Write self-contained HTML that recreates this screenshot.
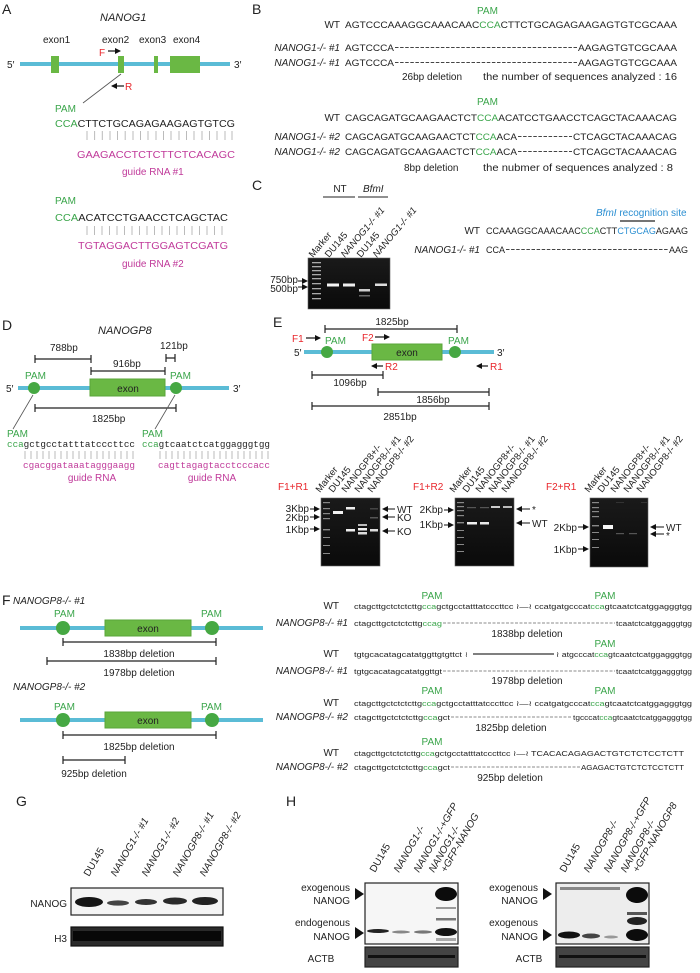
<!DOCTYPE html>
<html><head><meta charset="utf-8"><style>
html,body{margin:0;padding:0;background:#fff}
svg{display:block}
text{font-family:"Liberation Sans",Arial,sans-serif;fill:#222}
.g{fill:#3aa54a}.r{fill:#e8262b}.m{fill:#c03a9a}.b{fill:#2b8fd2}
.it{font-style:italic}
.mono{font-family:"Liberation Mono",monospace}
.br{stroke:#222;stroke-width:1.2;fill:none}
.tick{stroke:#bbb;stroke-width:1}
</style></head><body>
<svg width="700" height="973" viewBox="0 0 700 973" xmlns="http://www.w3.org/2000/svg">
<defs>
<marker id="ah" markerWidth="6" markerHeight="6" refX="5" refY="3" orient="auto" markerUnits="userSpaceOnUse"><path d="M0,0 L6,3 L0,6 z" fill="#111"/></marker>
<linearGradient id="gl" x1="0" x2="0" y1="0" y2="1"><stop offset="0" stop-color="#1a1a1a"/><stop offset="1" stop-color="#0a0a0a"/></linearGradient>
</defs>

<!-- ===== A ===== -->
<text x="2" y="14" font-size="14">A</text>
<text x="100" y="21" font-size="11" class="it">NANOG1</text>
<text x="43" y="43" font-size="10">exon1</text>
<text x="102" y="43" font-size="10">exon2</text>
<text x="139" y="43" font-size="10">exon3</text>
<text x="173" y="43" font-size="10">exon4</text>
<text x="7" y="68" font-size="10">5′</text>
<text x="234" y="68" font-size="10">3′</text>
<rect x="20" y="62" width="210" height="4" fill="#5bbcd6"/>
<rect x="51" y="56" width="8" height="17" fill="#6ab844"/>
<rect x="118" y="56" width="6" height="17" fill="#6ab844"/>
<rect x="154" y="56" width="4" height="17" fill="#6ab844"/>
<rect x="170" y="56" width="30" height="17" fill="#6ab844"/>
<text x="99" y="56" font-size="10" class="r">F</text>
<line x1="108" y1="51" x2="120" y2="51" stroke="#111" stroke-width="1.2" marker-end="url(#ah)"/>
<line x1="124" y1="86" x2="112" y2="86" stroke="#111" stroke-width="1.2" marker-end="url(#ah)"/>
<text x="125" y="90" font-size="10" class="r">R</text>
<line x1="121" y1="74" x2="83" y2="103" stroke="#555" stroke-width="0.8"/>
<text x="55" y="112" font-size="10" class="g">PAM</text>
<text x="55" y="127" font-size="10" textLength="180" lengthAdjust="spacingAndGlyphs"><tspan class="g">CCA</tspan>CTTCTGCAGAGAAGAGTGTCG</text>
<g class="tick">
<path d="M87 131v9M94.6 131v9M102.3 131v9M110 131v9M117.5 131v9M125.2 131v9M133 131v9M140.5 131v9M148 131v9M156 131v9M163.5 131v9M171 131v9M179 131v9M186.5 131v9M194 131v9M202 131v9M209.5 131v9M217 131v9M225 131v9M232 131v9"/>
</g>
<text x="77" y="158" font-size="10" class="m" textLength="158" lengthAdjust="spacingAndGlyphs">GAAGACCTCTCTTCTCACAGC</text>
<text x="122" y="175" font-size="10" class="m">guide RNA  #1</text>
<text x="55" y="204" font-size="10" class="g">PAM</text>
<text x="55" y="221" font-size="10" textLength="173" lengthAdjust="spacingAndGlyphs"><tspan class="g">CCA</tspan>ACATCCTGAACCTCAGCTAC</text>
<g class="tick">
<path d="M87 226v9M94.5 226v9M102 226v9M109.5 226v9M117 226v9M124.5 226v9M132 226v9M139.5 226v9M147 226v9M154.5 226v9M162 226v9M169.5 226v9M177 226v9M184.5 226v9M192 226v9M199.5 226v9M207 226v9M214.5 226v9M222 226v9"/>
</g>
<text x="78" y="249" font-size="10" class="m" textLength="150" lengthAdjust="spacingAndGlyphs">TGTAGGACTTGGAGTCGATG</text>
<text x="122" y="267" font-size="10" class="m">guide RNA  #2</text>

<!-- ===== B ===== -->
<text x="252" y="14" font-size="14">B</text>
<text x="477" y="14" font-size="10" class="g">PAM</text>
<text x="340" y="28" font-size="10" text-anchor="end">WT</text>
<text x="345" y="28" font-size="9.5" textLength="332" lengthAdjust="spacingAndGlyphs">AGTCCCAAAGGCAAACAAC<tspan class="g">CCA</tspan>CTTCTGCAGAGAAGAGTGTCGCAAA</text>
<text x="340" y="51" font-size="10" class="it" text-anchor="end">NANOG1-/- #1</text>
<text x="345" y="51" font-size="9.5" textLength="49" lengthAdjust="spacingAndGlyphs">AGTCCCA</text>
<line x1="395" y1="47.5" x2="577" y2="47.5" stroke="#444" stroke-width="0.9" stroke-dasharray="3.5,1.6"/>
<text x="578" y="51" font-size="9.5" textLength="99" lengthAdjust="spacingAndGlyphs">AAGAGTGTCGCAAA</text>
<text x="340" y="66" font-size="10" class="it" text-anchor="end">NANOG1-/- #1</text>
<text x="345" y="66" font-size="9.5" textLength="49" lengthAdjust="spacingAndGlyphs">AGTCCCA</text>
<line x1="395" y1="62.5" x2="577" y2="62.5" stroke="#444" stroke-width="0.9" stroke-dasharray="3.5,1.6"/>
<text x="578" y="66" font-size="9.5" textLength="99" lengthAdjust="spacingAndGlyphs">AAGAGTGTCGCAAA</text>
<text x="402" y="80" font-size="10">26bp deletion</text>
<text x="483" y="80" font-size="10" textLength="194" lengthAdjust="spacingAndGlyphs">the number of sequences analyzed : 16</text>
<text x="477" y="105" font-size="10" class="g">PAM</text>
<text x="340" y="121" font-size="10" text-anchor="end">WT</text>
<text x="345" y="121" font-size="9.5" textLength="332" lengthAdjust="spacingAndGlyphs">CAGCAGATGCAAGAACTCT<tspan class="g">CCA</tspan>ACATCCTGAACCTCAGCTACAAACAG</text>
<text x="340" y="140" font-size="10" class="it" text-anchor="end">NANOG1-/- #2</text>
<text x="345" y="140" font-size="9.5" textLength="172" lengthAdjust="spacingAndGlyphs">CAGCAGATGCAAGAACTCT<tspan class="g">CCA</tspan>ACA</text>
<line x1="518" y1="136.5" x2="572" y2="136.5" stroke="#444" stroke-width="0.9" stroke-dasharray="3.5,1.6"/>
<text x="573" y="140" font-size="9.5" textLength="104" lengthAdjust="spacingAndGlyphs">CTCAGCTACAAACAG</text>
<text x="340" y="155" font-size="10" class="it" text-anchor="end">NANOG1-/- #2</text>
<text x="345" y="155" font-size="9.5" textLength="172" lengthAdjust="spacingAndGlyphs">CAGCAGATGCAAGAACTCT<tspan class="g">CCA</tspan>ACA</text>
<line x1="518" y1="151.5" x2="572" y2="151.5" stroke="#444" stroke-width="0.9" stroke-dasharray="3.5,1.6"/>
<text x="573" y="155" font-size="9.5" textLength="104" lengthAdjust="spacingAndGlyphs">CTCAGCTACAAACAG</text>
<text x="404" y="171" font-size="10">8bp deletion</text>
<text x="483" y="171" font-size="10" textLength="190" lengthAdjust="spacingAndGlyphs">the nubmer of sequences analyzed :  8</text>

<!-- ===== C ===== -->
<text x="252" y="190" font-size="14">C</text>
<text x="340" y="192" font-size="10" text-anchor="middle">NT</text>
<line x1="323" y1="197" x2="355" y2="197" stroke="#222" stroke-width="1"/>
<text x="363" y="192" font-size="10" class="it">BfmI</text>
<line x1="358" y1="197" x2="388" y2="197" stroke="#222" stroke-width="1"/>
<g font-size="9.5">
<text transform="translate(313,258) rotate(-50)">Marker</text>
<text transform="translate(329,258) rotate(-50)">DU145</text>
<text transform="translate(345,258) rotate(-50)" class="it">NANOG1-/- #1</text>
<text transform="translate(361,258) rotate(-50)">DU145</text>
<text transform="translate(377,258) rotate(-50)" class="it">NANOG1-/- #1</text>
</g>
<rect x="308" y="258" width="82" height="51" fill="url(#gl)" stroke="#666" stroke-width="0.6"/>
<g fill="#aaa"><rect x="312" y="262" width="9" height="1.3"/><rect x="312" y="266" width="9" height="1.3"/><rect x="312" y="270" width="9" height="1.3"/><rect x="312" y="274" width="9" height="1.3"/><rect x="312" y="278" width="9" height="1.3"/><rect x="312" y="283" width="9" height="1.3"/><rect x="312" y="288" width="9" height="1.3"/><rect x="312" y="293" width="9" height="1.3"/><rect x="312" y="298" width="9" height="1.3"/></g>
<rect x="327" y="283.5" width="12" height="3" fill="#f4f4f4"/>
<rect x="343" y="283.5" width="12" height="3" fill="#eee"/>
<rect x="359" y="289" width="11" height="2.5" fill="#ccc"/>
<rect x="359" y="295" width="11" height="1.5" fill="#666"/>
<rect x="375" y="283.5" width="12" height="2.5" fill="#ddd"/>
<text x="298" y="283" font-size="10" text-anchor="end">750bp</text>
<text x="298" y="292" font-size="10" text-anchor="end">500bp</text>
<line x1="298" y1="281" x2="307" y2="281" stroke="#111" stroke-width="1" marker-end="url(#ah)"/>
<line x1="298" y1="287" x2="307" y2="287" stroke="#111" stroke-width="1" marker-end="url(#ah)"/>
<text x="596" y="216" font-size="10" class="b"><tspan class="it">BfmI</tspan> recognition site</text>
<line x1="620" y1="221" x2="655" y2="221" stroke="#222" stroke-width="1.3"/>
<text x="480" y="234" font-size="10" text-anchor="end">WT</text>
<text x="486" y="234" font-size="9.5" textLength="202" lengthAdjust="spacingAndGlyphs">CCAAAGGCAAACAAC<tspan class="g">CCA</tspan>CTT<tspan class="b">CTGCAG</tspan>AGAAG</text>
<text x="480" y="253" font-size="10" class="it" text-anchor="end">NANOG1-/- #1</text>
<text x="486" y="253" font-size="9.5" textLength="19" lengthAdjust="spacingAndGlyphs">CCA</text>
<line x1="506" y1="249.5" x2="668" y2="249.5" stroke="#444" stroke-width="0.9" stroke-dasharray="3.5,1.6"/>
<text x="669" y="253" font-size="9.5" textLength="19" lengthAdjust="spacingAndGlyphs">AAG</text>

<!-- ===== D ===== -->
<text x="2" y="330" font-size="14">D</text>
<text x="98" y="334" font-size="11" class="it">NANOGP8</text>
<text x="50" y="351" font-size="10">788bp</text>
<path class="br" d="M35 359H91M35 355v8M91 355v8"/>
<text x="113" y="367" font-size="10">916bp</text>
<path class="br" d="M91 371H165M91 367v8M165 367v8"/>
<text x="160" y="349" font-size="10">121bp</text>
<path class="br" d="M166 358H175M166 354v8M175 354v8"/>
<text x="25" y="379" font-size="10" class="g">PAM</text>
<text x="170" y="379" font-size="10" class="g">PAM</text>
<text x="6" y="392" font-size="10">5′</text>
<text x="233" y="392" font-size="10">3′</text>
<rect x="18" y="386" width="211" height="4" fill="#5bbcd6"/>
<rect x="90" y="379" width="75" height="17" fill="#6ab844" stroke="#5aa63a"/>
<text x="128" y="392" font-size="10" text-anchor="middle">exon</text>
<circle cx="34" cy="388" r="6" fill="#46a843"/>
<circle cx="176" cy="388" r="6" fill="#46a843"/>
<path class="br" d="M35 408H176M35 404v8M176 404v8"/>
<text x="92" y="422" font-size="10">1825bp</text>
<line x1="33" y1="395" x2="13" y2="429" stroke="#555" stroke-width="0.8"/>
<line x1="175" y1="395" x2="155" y2="429" stroke="#555" stroke-width="0.8"/>
<text x="7" y="437" font-size="10" class="g">PAM</text>
<text x="142" y="437" font-size="10" class="g">PAM</text>
<text x="7" y="447" font-size="9" class="mono" textLength="128" lengthAdjust="spacingAndGlyphs"><tspan class="g">cca</tspan>gctgcctatttatcccttcc</text>
<text x="142" y="447" font-size="9" class="mono" textLength="128" lengthAdjust="spacingAndGlyphs"><tspan class="g">cca</tspan>gtcaatctcatggagggtgg</text>
<g class="tick"><path d="M25 451v8M31 451v8M37 451v8M43 451v8M49 451v8M55 451v8M61 451v8M67 451v8M73 451v8M79 451v8M85 451v8M91 451v8M97 451v8M103 451v8M109 451v8M115 451v8M121 451v8M127 451v8M133 451v8"/>
<path d="M160 451v8M166 451v8M172 451v8M178 451v8M184 451v8M190 451v8M196 451v8M202 451v8M208 451v8M214 451v8M220 451v8M226 451v8M232 451v8M238 451v8M244 451v8M250 451v8M256 451v8M262 451v8M268 451v8"/></g>
<text x="23" y="468" font-size="9" class="mono m" textLength="112" lengthAdjust="spacingAndGlyphs">cgacggataaatagggaagg</text>
<text x="158" y="468" font-size="9" class="mono m" textLength="112" lengthAdjust="spacingAndGlyphs">cagttagagtacctcccacc</text>
<text x="92" y="481" font-size="10" class="m" text-anchor="middle">guide RNA</text>
<text x="212" y="481" font-size="10" class="m" text-anchor="middle">guide RNA</text>

<!-- ===== E ===== -->
<text x="273" y="327" font-size="14">E</text>
<text x="392" y="325" font-size="10" text-anchor="middle">1825bp</text>
<path class="br" d="M325 329H457M325 325v8M457 325v8"/>
<text x="292" y="342" font-size="10" class="r">F1</text>
<line x1="306" y1="338" x2="320" y2="338" stroke="#111" stroke-width="1.2" marker-end="url(#ah)"/>
<text x="325" y="344" font-size="10" class="g">PAM</text>
<text x="362" y="341" font-size="10" class="r">F2</text>
<line x1="375" y1="337" x2="389" y2="337" stroke="#111" stroke-width="1.2" marker-end="url(#ah)"/>
<text x="448" y="344" font-size="10" class="g">PAM</text>
<text x="294" y="356" font-size="10">5′</text>
<text x="497" y="356" font-size="10">3′</text>
<rect x="304" y="350" width="190" height="4" fill="#5bbcd6"/>
<rect x="372" y="344" width="70" height="16" fill="#6ab844" stroke="#5aa63a"/>
<text x="407" y="356" font-size="10" text-anchor="middle">exon</text>
<circle cx="327" cy="352" r="6" fill="#46a843"/>
<circle cx="455" cy="352" r="6" fill="#46a843"/>
<line x1="383" y1="366" x2="372" y2="366" stroke="#111" stroke-width="1.2" marker-end="url(#ah)"/>
<text x="385" y="370" font-size="10" class="r">R2</text>
<line x1="488" y1="366" x2="477" y2="366" stroke="#111" stroke-width="1.2" marker-end="url(#ah)"/>
<text x="490" y="370" font-size="10" class="r">R1</text>
<path class="br" d="M312 375H383M312 371v8M383 371v8"/>
<text x="350" y="386" font-size="10" text-anchor="middle">1096bp</text>
<path class="br" d="M378 392H489M378 388v8M489 388v8"/>
<text x="433" y="403" font-size="10" text-anchor="middle">1856bp</text>
<path class="br" d="M312 406H489M312 402v8M489 402v8"/>
<text x="400" y="420" font-size="10" text-anchor="middle">2851bp</text>

<!-- gels E -->
<g font-size="9.5">
<text transform="translate(320,493) rotate(-52)">Marker</text>
<text transform="translate(333,493) rotate(-52)">DU145</text>
<text transform="translate(346,493) rotate(-52)">NANOGP8+/-</text>
<text transform="translate(359,493) rotate(-52)">NANOGP8-/- #1</text>
<text transform="translate(372,493) rotate(-52)">NANOGP8-/- #2</text>
<text transform="translate(454,493) rotate(-52)">Marker</text>
<text transform="translate(467,493) rotate(-52)">DU145</text>
<text transform="translate(480,493) rotate(-52)">NANOGP8+/-</text>
<text transform="translate(493,493) rotate(-52)">NANOGP8-/- #1</text>
<text transform="translate(506,493) rotate(-52)">NANOGP8-/- #2</text>
<text transform="translate(589,493) rotate(-52)">Marker</text>
<text transform="translate(602,493) rotate(-52)">DU145</text>
<text transform="translate(615,493) rotate(-52)">NANOGP8+/-</text>
<text transform="translate(628,493) rotate(-52)">NANOGP8-/- #1</text>
<text transform="translate(641,493) rotate(-52)">NANOGP8-/- #2</text>
</g>
<text x="278" y="490" font-size="10" class="r">F1+R1</text>
<text x="413" y="490" font-size="10" class="r">F1+R2</text>
<text x="546" y="490" font-size="10" class="r">F2+R1</text>

<rect x="321" y="498" width="59" height="68" fill="url(#gl)" stroke="#666" stroke-width="0.6"/>
<g fill="#888"><rect x="323" y="502" width="7" height="1.2"/><rect x="323" y="508" width="7" height="1.2"/><rect x="323" y="513" width="7" height="1.2"/><rect x="323" y="518" width="7" height="1.2"/><rect x="323" y="529" width="7" height="1.4"/><rect x="323" y="537" width="7" height="1"/><rect x="323" y="545" width="7" height="1"/><rect x="323" y="553" width="7" height="1"/></g>
<rect x="333" y="511" width="10" height="3" fill="#f2f2f2"/>
<rect x="346" y="507" width="9" height="2.5" fill="#eee"/>
<rect x="346" y="529" width="9" height="2.5" fill="#eee"/>
<rect x="358" y="524" width="9" height="2" fill="#bbb"/>
<rect x="358" y="528" width="9" height="2.5" fill="#eee"/>
<rect x="358" y="532" width="9" height="2.5" fill="#ddd"/>
<rect x="370" y="529" width="8" height="2.5" fill="#ddd"/>
<rect x="370" y="517" width="8" height="1.5" fill="#555"/>
<rect x="370" y="508" width="8" height="1.5" fill="#444"/>
<g font-size="10" text-anchor="end"><text x="309" y="512">3Kbp</text><text x="309" y="521">2Kbp</text><text x="309" y="533">1Kbp</text></g>
<g stroke="#111" stroke-width="1"><line x1="310" y1="509" x2="319" y2="509" marker-end="url(#ah)"/><line x1="310" y1="517" x2="319" y2="517" marker-end="url(#ah)"/><line x1="310" y1="529" x2="319" y2="529" marker-end="url(#ah)"/>
<line x1="395" y1="509" x2="383" y2="509" marker-end="url(#ah)"/><line x1="395" y1="517" x2="383" y2="517" marker-end="url(#ah)"/><line x1="395" y1="531" x2="383" y2="531" marker-end="url(#ah)"/></g>
<g font-size="10"><text x="397" y="513">WT</text><text x="397" y="521">KO</text><text x="397" y="535">KO</text></g>

<rect x="455" y="498" width="59" height="68" fill="url(#gl)" stroke="#666" stroke-width="0.6"/>
<g fill="#888"><rect x="457" y="502" width="7" height="1.2"/><rect x="457" y="506" width="7" height="1.2"/><rect x="457" y="510" width="7" height="1.2"/><rect x="457" y="515" width="7" height="1.2"/><rect x="457" y="522" width="7" height="1.4"/><rect x="457" y="530" width="7" height="1"/><rect x="457" y="537" width="7" height="1"/><rect x="457" y="544" width="7" height="1"/><rect x="457" y="551" width="7" height="1"/></g>
<rect x="467" y="522" width="10" height="2.5" fill="#f0f0f0"/>
<rect x="480" y="522" width="9" height="2.5" fill="#e8e8e8"/>
<rect x="491" y="506" width="9" height="2" fill="#ccc"/>
<rect x="503" y="506" width="9" height="2" fill="#bbb"/>
<rect x="467" y="507" width="9" height="1.2" fill="#555"/>
<rect x="480" y="507" width="9" height="1.2" fill="#555"/>
<g font-size="10" text-anchor="end"><text x="443" y="513">2Kbp</text><text x="443" y="528">1Kbp</text></g>
<g stroke="#111" stroke-width="1"><line x1="444" y1="510" x2="453" y2="510" marker-end="url(#ah)"/><line x1="444" y1="525" x2="453" y2="525" marker-end="url(#ah)"/>
<line x1="530" y1="509" x2="517" y2="509" marker-end="url(#ah)"/><line x1="530" y1="523" x2="517" y2="523" marker-end="url(#ah)"/></g>
<g font-size="10"><text x="532" y="513">*</text><text x="532" y="527">WT</text></g>

<rect x="590" y="498" width="58" height="69" fill="url(#gl)" stroke="#666" stroke-width="0.6"/>
<g fill="#888"><rect x="592" y="502" width="7" height="1.2"/><rect x="592" y="507" width="7" height="1.2"/><rect x="592" y="511" width="7" height="1.2"/><rect x="592" y="516" width="7" height="1.2"/><rect x="592" y="525" width="7" height="1.4"/><rect x="592" y="532" width="7" height="1"/><rect x="592" y="539" width="7" height="1"/><rect x="592" y="547" width="7" height="1"/></g>
<rect x="603" y="525" width="10" height="4" fill="#f6f6f6"/>
<rect x="616" y="533" width="8" height="1.2" fill="#555"/>
<rect x="629" y="533" width="8" height="1.2" fill="#555"/>
<rect x="616" y="502" width="8" height="1" fill="#333"/>
<rect x="641" y="502" width="6" height="1" fill="#333"/>
<g font-size="10" text-anchor="end"><text x="577" y="531">2Kbp</text><text x="577" y="553">1Kbp</text></g>
<g stroke="#111" stroke-width="1"><line x1="578" y1="527" x2="588" y2="527" marker-end="url(#ah)"/><line x1="578" y1="549" x2="588" y2="549" marker-end="url(#ah)"/>
<line x1="664" y1="527" x2="651" y2="527" marker-end="url(#ah)"/><line x1="664" y1="534" x2="651" y2="534" marker-end="url(#ah)"/></g>
<g font-size="10"><text x="666" y="531">WT</text><text x="666" y="539">*</text></g>

<!-- ===== F ===== -->
<text x="2" y="605" font-size="14">F</text>
<text x="13" y="604" font-size="10" class="it">NANOGP8-/- #1</text>
<text x="54" y="617" font-size="10" class="g">PAM</text>
<text x="201" y="617" font-size="10" class="g">PAM</text>
<rect x="20" y="626" width="243" height="4" fill="#5bbcd6"/>
<rect x="105" y="620" width="86" height="16" fill="#6ab844" stroke="#5aa63a"/>
<text x="148" y="632" font-size="10" text-anchor="middle">exon</text>
<circle cx="63" cy="628" r="7" fill="#46a843"/>
<circle cx="212" cy="628" r="7" fill="#46a843"/>
<path class="br" d="M63 642H216M63 638v8M216 638v8"/>
<text x="139" y="657" font-size="10" text-anchor="middle">1838bp deletion</text>
<path class="br" d="M47 661H216M47 657v8M216 657v8"/>
<text x="139" y="676" font-size="10" text-anchor="middle">1978bp deletion</text>
<text x="13" y="690" font-size="10" class="it">NANOGP8-/- #2</text>
<text x="54" y="710" font-size="10" class="g">PAM</text>
<text x="201" y="710" font-size="10" class="g">PAM</text>
<rect x="20" y="718" width="243" height="4" fill="#5bbcd6"/>
<rect x="105" y="712" width="86" height="16" fill="#6ab844" stroke="#5aa63a"/>
<text x="148" y="724" font-size="10" text-anchor="middle">exon</text>
<circle cx="63" cy="720" r="7" fill="#46a843"/>
<circle cx="212" cy="720" r="7" fill="#46a843"/>
<path class="br" d="M63 735H216M63 731v8M216 731v8"/>
<text x="139" y="750" font-size="10" text-anchor="middle">1825bp deletion</text>
<path class="br" d="M63 760H125M63 756v8M125 756v8"/>
<text x="94" y="777" font-size="10" text-anchor="middle">925bp deletion</text>

<!-- F right sequences -->
<g font-size="10">
<text x="432" y="599" class="g" text-anchor="middle">PAM</text>
<text x="605" y="599" class="g" text-anchor="middle">PAM</text>
<text x="339" y="609" text-anchor="end">WT</text>
<text x="348" y="626" class="it" text-anchor="end">NANOGP8-/- #1</text>
<text x="527" y="637" text-anchor="middle">1838bp deletion</text>
<text x="605" y="647" class="g" text-anchor="middle">PAM</text>
<text x="339" y="657" text-anchor="end">WT</text>
<text x="348" y="674" class="it" text-anchor="end">NANOGP8-/- #1</text>
<text x="527" y="684" text-anchor="middle">1978bp deletion</text>
<text x="432" y="694" class="g" text-anchor="middle">PAM</text>
<text x="605" y="694" class="g" text-anchor="middle">PAM</text>
<text x="339" y="706" text-anchor="end">WT</text>
<text x="348" y="720" class="it" text-anchor="end">NANOGP8-/- #2</text>
<text x="511" y="731" text-anchor="middle">1825bp deletion</text>
<text x="432" y="745" class="g" text-anchor="middle">PAM</text>
<text x="339" y="756" text-anchor="end">WT</text>
<text x="348" y="770" class="it" text-anchor="end">NANOGP8-/- #2</text>
<text x="510" y="781" text-anchor="middle">925bp deletion</text>
</g>
<g font-size="7.5" class="mono">
<text x="354" y="609" textLength="338" lengthAdjust="spacingAndGlyphs">ctagcttgctctctcttg<tspan class="g">cca</tspan>gctgcctatttatcccttcc ≀—≀ ccatgatgcccat<tspan class="g">cca</tspan>gtcaatctcatggagggtgg</text>
<text x="354" y="626" textLength="88" lengthAdjust="spacingAndGlyphs">ctagcttgctctctcttg<tspan class="g">ccag</tspan></text>
<text x="616" y="626" textLength="76" lengthAdjust="spacingAndGlyphs">tcaatctcatggagggtgg</text>
<text x="354" y="657" textLength="108" lengthAdjust="spacingAndGlyphs">tgtgcacatagcatatggttgtgttct</text>
<text x="465" y="657">≀</text>
<text x="556" y="657" textLength="136" lengthAdjust="spacingAndGlyphs">≀ atgcccat<tspan class="g">cca</tspan>gtcaatctcatggagggtgg</text>
<text x="354" y="674" textLength="88" lengthAdjust="spacingAndGlyphs">tgtgcacatagcatatggttgt</text>
<text x="616" y="674" textLength="76" lengthAdjust="spacingAndGlyphs">tcaatctcatggagggtgg</text>
<text x="354" y="706" textLength="338" lengthAdjust="spacingAndGlyphs">ctagcttgctctctcttg<tspan class="g">cca</tspan>gctgcctatttatcccttcc ≀—≀ ccatgatgcccat<tspan class="g">cca</tspan>gtcaatctcatggagggtgg</text>
<text x="354" y="720" textLength="96" lengthAdjust="spacingAndGlyphs">ctagcttgctctctcttg<tspan class="g">cca</tspan>gct</text>
<text x="573" y="720" textLength="119" lengthAdjust="spacingAndGlyphs">tgcccat<tspan class="g">cca</tspan>gtcaatctcatggagggtgg</text>
<text x="354" y="756" textLength="330" lengthAdjust="spacingAndGlyphs">ctagcttgctctctcttg<tspan class="g">cca</tspan>gctgcctatttatcccttcc ≀—≀ TCACACAGAGACTGTCTCTCCTCTT</text>
<text x="354" y="770" textLength="96" lengthAdjust="spacingAndGlyphs">ctagcttgctctctcttg<tspan class="g">cca</tspan>gct</text>
<text x="581" y="770" textLength="103" lengthAdjust="spacingAndGlyphs">AGAGACTGTCTCTCCTCTT</text>
</g>
<line x1="443" y1="623" x2="615" y2="623" stroke="#666" stroke-width="0.8" stroke-dasharray="3,1.5"/>
<line x1="473" y1="654" x2="554" y2="654" stroke="#333" stroke-width="1.2"/>
<line x1="443" y1="671" x2="615" y2="671" stroke="#666" stroke-width="0.8" stroke-dasharray="3,1.5"/>
<line x1="451" y1="717" x2="572" y2="717" stroke="#666" stroke-width="0.8" stroke-dasharray="3,1.5"/>
<line x1="451" y1="767" x2="580" y2="767" stroke="#666" stroke-width="0.8" stroke-dasharray="3,1.5"/>

<!-- ===== G ===== -->
<text x="16" y="806" font-size="14">G</text>
<g font-size="10" class="it">
<text transform="translate(89,877) rotate(-60)" style="font-style:normal">DU145</text>
<text transform="translate(116,877) rotate(-60)">NANOG1-/- #1</text>
<text transform="translate(147,877) rotate(-60)">NANOG1-/- #2</text>
<text transform="translate(178,877) rotate(-60)">NANOGP8-/- #1</text>
<text transform="translate(205,877) rotate(-60)">NANOGP8-/- #2</text>
</g>
<rect x="71" y="888" width="152" height="27" fill="#f4f4f4" stroke="#222" stroke-width="1.2"/>
<ellipse cx="89" cy="902" rx="14" ry="5" fill="#151515"/>
<ellipse cx="118" cy="903" rx="11" ry="2.6" fill="#444"/>
<ellipse cx="146" cy="902" rx="11" ry="3" fill="#333"/>
<ellipse cx="175" cy="901" rx="12" ry="3.5" fill="#2a2a2a"/>
<ellipse cx="205" cy="901" rx="13" ry="4" fill="#222"/>
<rect x="71" y="927" width="152" height="19" fill="#2a2a2a" stroke="#111" stroke-width="1.2"/>
<rect x="73" y="931" width="148" height="10" fill="#080808"/>
<text x="67" y="907" font-size="10" text-anchor="end">NANOG</text>
<text x="67" y="942" font-size="10" text-anchor="end">H3</text>

<!-- ===== H ===== -->
<text x="286" y="806" font-size="14">H</text>
<g font-size="10" class="it">
<text transform="translate(375,873) rotate(-60)" style="font-style:normal">DU145</text>
<text transform="translate(399,873) rotate(-60)">NANOG1-/-</text>
<text transform="translate(419,873) rotate(-60)">NANOG1-/-+GFP</text>
<text transform="translate(434,873) rotate(-60)">NANOG1-/-</text>
<text transform="translate(446,873) rotate(-60)">+GFP-NANOG</text>
<text transform="translate(565,873) rotate(-60)" style="font-style:normal">DU145</text>
<text transform="translate(589,873) rotate(-60)">NANOGP8-/-</text>
<text transform="translate(609,873) rotate(-60)">NANOGP8-/-+GFP</text>
<text transform="translate(626,873) rotate(-60)">NANOGP8-/-</text>
<text transform="translate(638,873) rotate(-60)">+GFP-NANOGP8</text>
</g>
<rect x="365" y="883" width="93" height="61" fill="#f6f6f6" stroke="#222" stroke-width="1.2"/>
<ellipse cx="446" cy="894" rx="11" ry="7" fill="#0c0c0c"/>
<rect x="436" y="907" width="20" height="2" fill="#999"/>
<rect x="436" y="918" width="20" height="2.5" fill="#777"/>
<ellipse cx="446" cy="932" rx="11" ry="4" fill="#111"/>
<ellipse cx="378" cy="931" rx="11" ry="2" fill="#222"/>
<ellipse cx="401" cy="932" rx="9" ry="1.5" fill="#888"/>
<ellipse cx="423" cy="932" rx="9" ry="1.6" fill="#777"/>
<rect x="436" y="938" width="20" height="3" fill="#aaa"/>
<rect x="365" y="947" width="93" height="20" fill="#444" stroke="#222" stroke-width="1.2"/>
<rect x="368" y="955" width="87" height="3" fill="#111"/>
<path d="M355 888 L364 894 L355 900 z" fill="#111"/>
<path d="M355 927 L364 933 L355 939 z" fill="#111"/>
<g font-size="10" text-anchor="end">
<text x="350" y="891">exogenous</text><text x="350" y="904">NANOG</text>
<text x="350" y="926">endogenous</text><text x="350" y="940">NANOG</text>
</g>
<text x="321" y="962" font-size="10" text-anchor="middle">ACTB</text>

<rect x="556" y="883" width="93" height="61" fill="#ededed" stroke="#222" stroke-width="1.2"/>
<rect x="560" y="887" width="60" height="3" fill="#888"/>
<ellipse cx="637" cy="895" rx="11" ry="8" fill="#0c0c0c"/>
<rect x="627" y="912" width="20" height="3" fill="#555"/>
<ellipse cx="637" cy="921" rx="10" ry="4" fill="#222"/>
<ellipse cx="637" cy="935" rx="11" ry="6" fill="#0c0c0c"/>
<ellipse cx="569" cy="935" rx="11" ry="3.5" fill="#111"/>
<ellipse cx="591" cy="936" rx="9" ry="2.5" fill="#444"/>
<ellipse cx="611" cy="937" rx="7" ry="1.5" fill="#999"/>
<rect x="556" y="947" width="93" height="20" fill="#444" stroke="#222" stroke-width="1.2"/>
<rect x="559" y="955" width="87" height="3" fill="#111"/>
<path d="M543 888 L552 894 L543 900 z" fill="#111"/>
<path d="M543 929 L552 935 L543 941 z" fill="#111"/>
<g font-size="10" text-anchor="end">
<text x="538" y="891">exogenous</text><text x="538" y="904">NANOG</text>
<text x="538" y="926">exogenous</text><text x="538" y="940">NANOG</text>
</g>
<text x="529" y="962" font-size="10" text-anchor="middle">ACTB</text>
</svg>
</body></html>
